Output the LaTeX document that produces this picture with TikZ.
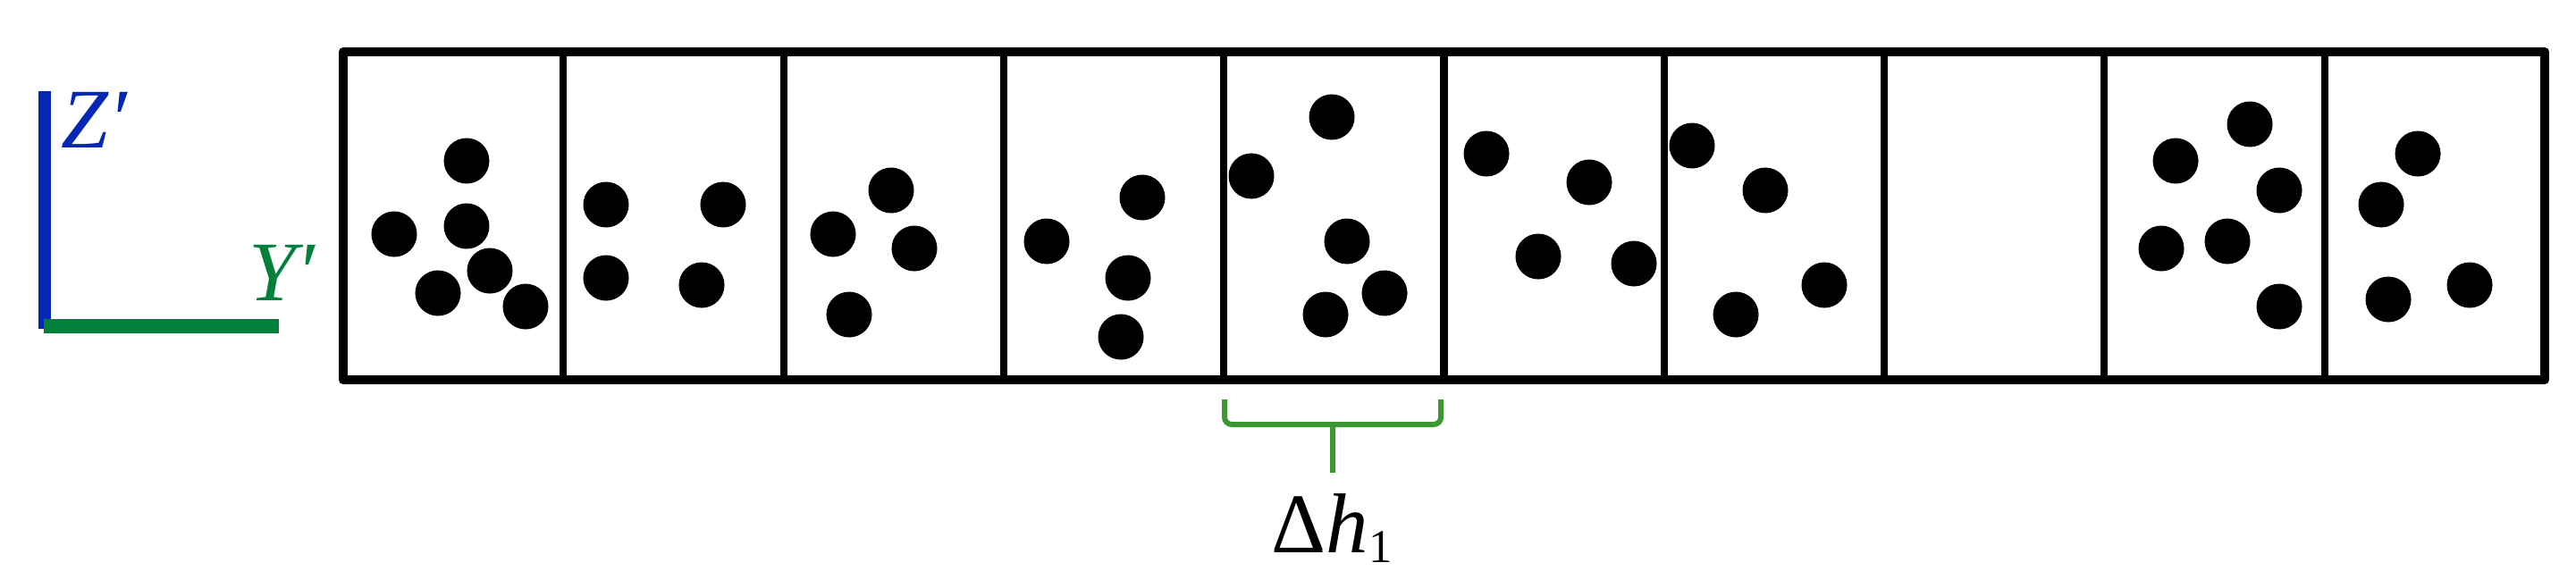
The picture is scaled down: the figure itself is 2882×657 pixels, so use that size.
\documentclass[tikz,border=0pt]{standalone}
\usepackage{fontspec}
\setmainfont{Liberation Serif}
\definecolor{axblue}{RGB}{5,40,180}
\definecolor{axgreen}{RGB}{0,128,58}
\definecolor{brgreen}{RGB}{60,150,50}
\tikzset{
  frameline/.style={line width=2.85pt, line join=round},
  divider/.style={line width=2.3pt},
  dot/.style={fill=black},
  bracestyle/.style={draw=brgreen, line width=1.7pt, rounded corners=2.3pt},
  axlabel/.style={inner sep=0pt, anchor=base west, font=\fontsize{27}{30}\selectfont\itshape},
}
\begin{document}
\begin{tikzpicture}[x=0.01cm,y=-0.01cm]
\useasboundingbox (0,0) rectangle (2882,657);
% axes
\draw[axblue, line width=3.7pt] (50,102) -- (50,368);
\draw[axgreen, line width=4.8pt] (49,365) -- (312,365);
\node[axlabel, text=axblue] (zlab) at (68,165) {Z′};
\node[axlabel, text=axgreen] (ylab) at (278,336) {Y′};
% frame
\draw[frameline] (384,58) rectangle (2847,425);
\foreach \k in {1,...,9}{
  \draw[divider] ({384+246.3*\k},58) -- ({384+246.3*\k},425);
}
% dots
\foreach \p in {
  (522,180),(441,262),(522,253),(548,303),(490,328),(588,343),
  (678,229),(809,229),(678,311),(785,319),
  (997,213),(932,262),(1023,278),(950,352),
  (1278,221),(1171,270),(1262,311),(1254,377),
  (1490,131),(1400,197),(1507,270),(1549,328),(1483,352),
  (1663,172),(1778,204),(1721,287),(1828,295),
  (1893,163),(1975,213),(2041,319),(1942,352),
  (2517,139),(2434,180),(2550,213),(2492,270),(2418,278),(2550,343),
  (2705,172),(2664,229),(2763,319),(2672,335)}{
  \fill[dot] \p circle[radius=0.255cm];
}
% brace
\draw[bracestyle] (1370,447) -- (1370,475) -- (1612,475) -- (1612,447);
\coordinate (bmid) at (1491,475);
\coordinate (bend) at (1491,529);
\draw[brgreen, line width=1.7pt] (bmid) -- (bend);
\node[inner sep=0pt, anchor=base, font=\fontsize{27}{30}\selectfont] (dh) at (1490,618)
  {Δ\textit{h}\raisebox{-3.4pt}{\fontsize{15}{18}\selectfont 1}};
\end{tikzpicture}
\end{document}
